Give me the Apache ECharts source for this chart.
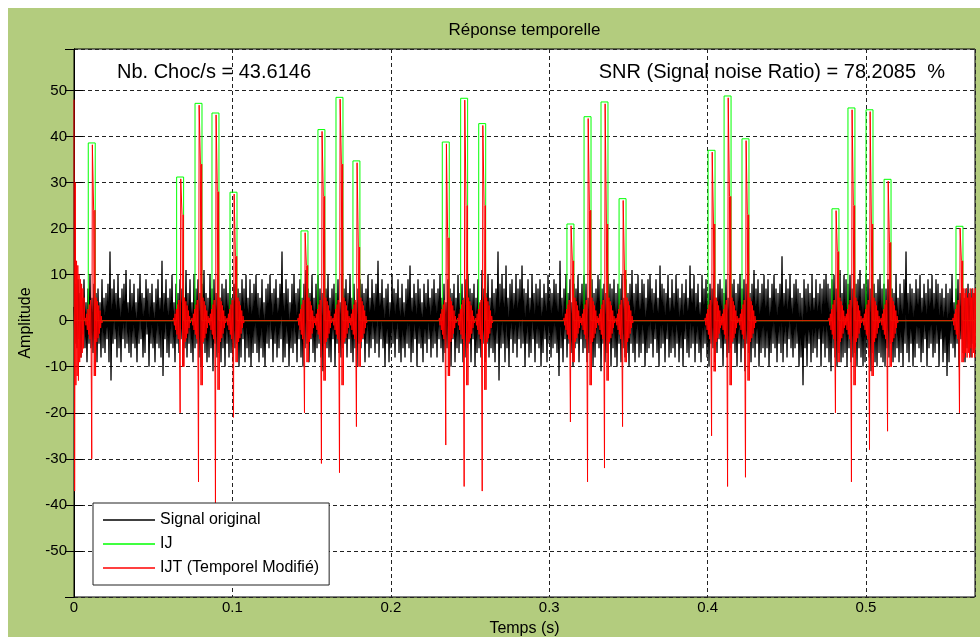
<!DOCTYPE html>
<html>
<head>
<meta charset="utf-8">
<title>Réponse temporelle</title>
<script src="https://cdn.jsdelivr.net/npm/echarts@6.0.0/dist/echarts.min.js"></script>
<style>
    html, body { margin: 0; padding: 0; background: #fff; }
    #chart { position: absolute; left: 8px; top: 8px; width: 972px; height: 629px; }
</style>
</head>
<body>
<div id="chart"></div>
<script>
    // axe des temps
    const xMax = 0.5688;
    const blackDt = 0.00063131;  // pas d'echantillonnage du signal affiché
    const redDt = 0.0004;
    const pulseW = 0.0044;

    // Signal original (bruit), un echantillon tous les blackDt
    const signalOriginal = [
        3,-5,8,-6,9,-4,6,-8,5,-3,9,-6,4,-9,7,-5,10,-6,5,-7,8,-4,6,-9,7,-5,4,-8,9,-6,
        5,-7,6,-4,8,-9,15,-13,7,-5,9,-4,6,-8,10,-6,5,-9,7,-4,8,-6,11,-5,4,-7,9,-8,6,-5,
        8,-6,4,-9,7,-5,10,-4,6,-8,5,-7,9,-3,7,-10,6,-5,8,-6,4,-9,7,-5,9,-6,5,-8,13,-12,
        6,-4,9,-7,5,-8,7,-5,10,-6,4,-9,8,-5,6,-7,9,-4,7,-10,5,-6,11,-8,6,-5,9,-7,4,-9,
        10,-6,7,-5,9,-8,6,-10,8,-5,11,-7,6,-9,5,-8,10,-6,7,-11,9,-5,6,-8,10,-7,5,-9,8,-6,
        7,-10,9,-5,6,-8,10,-7,5,-9,8,-6,11,-5,7,-10,6,-8,9,-4,7,-9,10,-6,5,-8,9,-10,6,-7,
        8,-5,10,-7,6,-9,5,-6,9,-8,4,-10,7,-5,8,-6,10,-4,6,-9,7,-5,9,-8,5,-6,8,-4,15,-9,
        6,-8,9,-5,7,-10,4,-6,8,-7,10,-5,6,-9,7,-4,9,-8,5,-10,8,-6,11,-5,7,-9,6,-4,10,-7,
        5,-9,8,-6,10,-5,7,-8,6,-11,9,-5,7,-6,10,-8,5,-9,7,-4,8,-10,6,-5,9,-7,4,-8,10,-6,
        7,-5,9,-8,6,-4,10,-7,5,-9,8,-6,4,-10,7,-5,9,-6,8,-4,6,-9,7,-5,10,-8,5,-6,9,-4,
        6,-7,8,-5,13,-8,6,-4,9,-6,5,-10,7,-5,8,-9,4,-6,10,-5,7,-8,6,-4,9,-7,5,-9,8,-6,
        4,-8,7,-5,9,-6,12,-9,5,-7,8,-4,6,-10,9,-5,7,-6,4,-9,8,-5,6,-7,9,-4,5,-8,7,-6,
        9,-5,6,-8,7,-4,10,-6,5,-9,8,-7,4,-6,9,-5,7,-10,6,-4,8,-9,5,-6,10,-7,6,-5,8,-9,
        5,-8,9,-6,10,-5,7,-9,6,-4,8,-10,5,-7,9,-6,4,-8,11,-5,7,-9,6,-5,10,-8,5,-6,9,-7,
        6,-9,7,-5,15,-13,8,-6,10,-5,7,-9,12,-6,5,-10,8,-4,9,-7,6,-5,10,-8,7,-4,9,-6,12,-5,
        7,-10,6,-5,9,-8,5,-7,10,-4,6,-9,8,-5,7,-6,9,-10,5,-7,8,-4,6,-9,10,-5,7,-8,6,-6,
        9,-5,8,-7,6,-12,13,-6,5,-9,7,-4,10,-8,6,-5,9,-7,4,-10,8,-6,7,-5,10,-9,6,-4,8,-7,
        10,-6,8,-9,5,-7,11,-5,9,-10,6,-8,7,-5,10,-6,9,-11,7,-5,8,-9,6,-7,10,-5,8,-10,7,-6,
        9,-8,6,-10,8,-5,7,-9,10,-6,5,-8,9,-7,6,-10,8,-5,11,-7,6,-9,8,-5,10,-8,6,-7,9,-5,
        8,-10,5,-7,9,-6,10,-5,7,-8,6,-4,9,-7,5,-10,12,-6,8,-5,7,-9,6,-4,10,-8,5,-7,9,-6,
        6,-8,10,-5,7,-9,5,-6,8,-10,6,-4,9,-7,5,-8,12,-6,7,-5,10,-9,6,-5,8,-7,4,-9,10,-6,
        7,-5,9,-8,6,-10,8,-5,7,-6,10,-9,5,-7,8,-4,9,-6,7,-10,6,-5,9,-8,5,-7,10,-6,8,-5,
        9,-7,6,-10,8,-5,10,-9,7,-6,9,-11,8,-5,10,-7,6,-9,8,-6,11,-8,7,-5,9,-10,6,-7,8,-6,
        10,-8,7,-6,9,-10,5,-7,8,-5,10,-6,7,-9,6,-5,8,-7,14,-9,6,-5,9,-8,7,-4,10,-6,5,-8,
        8,-6,9,-5,7,-10,6,-8,5,-14,9,-6,7,-10,8,-5,6,-9,10,-7,5,-6,9,-8,6,-4,8,-10,7,-5,
        9,-8,10,-6,8,-9,7,-11,9,-6,10,-8,7,-10,9,-7,11,-9,6,-8,10,-7,9,-10,8,-6,10,-9,7,-8,
        10,-7,8,-10,9,-6,11,-8,7,-10,8,-9,10,-6,9,-8,7,-11,10,-7,8,-9,6,-10,9,-7,10,-8,7,-9,
        8,-10,7,-6,9,-8,10,-5,7,-9,6,-8,10,-6,5,-9,8,-7,6,-10,9,-5,15,-7,6,-9,8,-5,7,-10,
        6,-8,9,-5,7,-6,10,-9,5,-7,8,-4,6,-10,9,-6,7,-5,10,-8,6,-7,9,-5,8,-10,6,-4,7,-9,
        5,-7,8,-12,6,-9,7,-5,10,-6,4,-8,7,-5,9,-10,6,-4,8,-7,5,-9,7,-6,8,-5,6,-8,7,-5,
        6
    ];

    // chocs : debut de l'impulsion IJ (s), amplitude IJ, creux IJT, partie epaisse IJT
    const shockStart = [0.0090, 0.0648, 0.0764, 0.0871, 0.0985,
                        0.1433, 0.1540, 0.1654, 0.1761,
                        0.2325, 0.2441, 0.2555,
                        0.3112, 0.3220, 0.3327, 0.3441,
                        0.4003, 0.4104, 0.4217,
                        0.4785, 0.4886, 0.5000, 0.5114,
                        0.5568];
    const ijPeak    = [38.6, 31.2, 47.2, 45.1, 27.9, 19.5, 41.5, 48.5, 34.7, 38.8, 48.3, 42.8,
                       21.0, 44.3, 47.5, 26.5, 37.0, 48.8, 39.5, 24.3, 46.2, 45.8, 30.7, 20.5];
    const ijtPeak   = [38.2, 30.8, 46.8, 44.7, 27.5, 19.1, 41.1, 48.1, 34.3, 38.4, 47.9, 42.4,
                       20.6, 43.9, 47.1, 26.1, 36.6, 48.4, 39.1, 23.9, 45.8, 45.4, 30.3, 20.1];
    const ijtTrough = [30, 20, 35, 40, 21, 20, 31, 33, 23, 27, 36, 37,
                       22, 35, 32, 23, 25, 36, 34, 20, 35, 28, 24, 20];
    const ijtUp     = [24, 23, 34, 28, 14, 12, 27, 34, 16, 18, 25, 25,
                       13, 24, 21, 11, 21, 27, 23, 15, 25, 21, 17, 13];
    const ijtDown   = [12, 10, 14, 15, 9, 9, 13, 14, 10, 12, 14, 15,
                       9, 14, 13, 9, 11, 14, 13, 9, 14, 12, 10, 9];

    // forme des bouffees IJT (pas redDt)
    const redStart = [48,-37,30,-14,13,-12,12,-13,10,-9,9,-8,8,-7,7,-6,5];
    const redRise  = [0.6,-1,1.5,-2,2.5,-3,3.5,-4,4.5,-5];
    const redFall  = [5,-4.6,4.2,-3.8,3.3,-2.8,2.2,-1.6,1,-0.5];
    const redTail  = [7,-8,6,-7,7,-8,5,-7,6,-8,7,-6,5,-8,7,-7,6,-8,7,-6,5,-7,6,-8];

    const fontFamily = "'Liberation Sans', Arial, sans-serif";

    const blackData = signalOriginal.map((v, i) => [i * blackDt, v]);

    const greenData = [[0, 0]];
    shockStart.forEach((t, i) => {
        greenData.push([t, 0], [t, ijPeak[i]], [t + pulseW, ijPeak[i]], [t + pulseW, 0]);
    });
    greenData.push([xMax, 0]);

    const redData = [];
    redStart.forEach((v, k) => redData.push([k * redDt, v]));
    shockStart.forEach((t, i) => {
        const last = i === shockStart.length - 1;
        const seq = redRise.concat(
            [-ijtTrough[i], ijtPeak[i], ijtPeak[i], ijtUp[i], -ijtDown[i], ijtUp[i], -ijtDown[i]],
            last ? redTail : redFall);
        const t0 = t + pulseW / 2 - redRise.length * redDt;
        redData.push([t0 - redDt, 0]);
        seq.forEach((v, k) => redData.push([t0 + k * redDt, v]));
        if (!last) {
            redData.push([t0 + seq.length * redDt, 0]);
        }
    });

    const chart = echarts.init(document.getElementById('chart'));

    const gridDash = { type: [4, 3], color: '#222', width: 1 };
    const tickStyle = { show: true, inside: true, length: 9, lineStyle: { color: '#000' } };

    const option = {
        animation: false,
        backgroundColor: '#b3cc7e',
        textStyle: { fontFamily: fontFamily },
        grid: {
            left: 66, top: 41, right: 5, bottom: 40,
            outerBoundsMode: 'none',
            show: true, backgroundColor: '#fff', borderColor: '#000', borderWidth: 1
        },
        legend: {
            orient: 'vertical',
            left: 85, top: 495,
            padding: [9, 10, 9, 10],
            backgroundColor: '#fff',
            borderColor: '#222',
            borderWidth: 1,
            borderRadius: 0,
            itemWidth: 52,
            itemHeight: 14,
            itemGap: 8,
            icon: 'path://M0,0L52,0L52,1.3L0,1.3Z',
            symbolKeepAspect: true,
            textStyle: { fontSize: 16, color: '#000', fontFamily: fontFamily },
            data: ['Signal original', 'IJ', 'IJT (Temporel Modifié)']
        },
        xAxis: [{
            type: 'value', position: 'bottom',
            min: 0, max: xMax, interval: 0.1,
            name: 'Temps (s)', nameLocation: 'middle', nameGap: 24,
            nameTextStyle: { fontSize: 16, color: '#000' },
            axisLine: { show: true, lineStyle: { color: '#000' } },
            axisTick: tickStyle,
            axisLabel: { margin: 3, fontSize: 15, color: '#000', showMaxLabel: false },
            splitLine: { show: true, lineStyle: gridDash }
        }, {
            type: 'value', position: 'top',
            min: 0, max: xMax, interval: 0.1,
            axisLine: { show: true, lineStyle: { color: '#000' } },
            axisTick: tickStyle,
            axisLabel: { show: false },
            splitLine: { show: false }
        }],
        yAxis: [{
            type: 'value', position: 'left',
            min: -60, max: 59, interval: 10,
            name: 'Amplitude', nameLocation: 'middle', nameGap: 40,
            nameTextStyle: { fontSize: 16, color: '#000' },
            axisLine: { show: true, lineStyle: { color: '#000' } },
            axisTick: tickStyle,
            axisLabel: { margin: 7, fontSize: 15, color: '#000', showMinLabel: false, showMaxLabel: false },
            splitLine: { show: true, lineStyle: gridDash }
        }, {
            type: 'value', position: 'right',
            min: -60, max: 59, interval: 10,
            axisLine: { show: true, lineStyle: { color: '#000' } },
            axisTick: tickStyle,
            axisLabel: { show: false },
            splitLine: { show: false }
        }],
        graphic: [{
            type: 'text',
            style: { x: 516.5, y: 22, text: 'Réponse temporelle', font: '17px ' + fontFamily,
                     fill: '#000', align: 'center', verticalAlign: 'middle' }
        }, {
            type: 'text',
            style: { x: 109, y: 64, text: 'Nb. Choc/s = 43.6146', font: '20px ' + fontFamily,
                     fill: '#000', align: 'left', verticalAlign: 'middle' }
        }, {
            type: 'text',
            style: { x: 937, y: 64, text: 'SNR (Signal noise Ratio) = 78.2085  %', font: '20px ' + fontFamily,
                     fill: '#000', align: 'right', verticalAlign: 'middle' }
        }],
        series: [{
            name: 'Signal original', type: 'line', data: blackData,
            symbol: 'none', silent: true,
            itemStyle: { color: '#000' },
            lineStyle: { color: '#000', width: 1.3 }
        }, {
            name: 'IJ', type: 'line', data: greenData,
            symbol: 'none', silent: true,
            itemStyle: { color: '#00ff00' },
            lineStyle: { color: '#00ff00', width: 1 }
        }, {
            name: 'IJT (Temporel Modifié)', type: 'line', data: redData,
            symbol: 'none', silent: true,
            itemStyle: { color: '#ff0000' },
            lineStyle: { color: '#ff0000', width: 1 }
        }]
    };
    chart.setOption(option);
</script>
</body>
</html>
